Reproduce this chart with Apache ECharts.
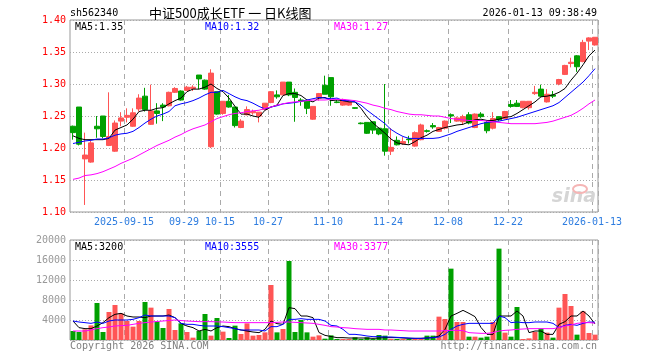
<!DOCTYPE html>
<html><head><meta charset="utf-8">
<script src="https://cdn.jsdelivr.net/npm/echarts@6/dist/echarts.min.js"></script>
<style>html,body{margin:0;padding:0;background:#fff}#c{width:660px;height:360px}</style>
</head><body><div id="c"></div>
<script>
const dates = [
'2025-09-02','2025-09-03','2025-09-04','2025-09-05','2025-09-08','2025-09-09','2025-09-10','2025-09-11','2025-09-12','2025-09-15',
'2025-09-16','2025-09-17','2025-09-18','2025-09-19','2025-09-22','2025-09-23','2025-09-24','2025-09-25','2025-09-26','2025-09-29',
'2025-09-30','2025-10-09','2025-10-10','2025-10-13','2025-10-14','2025-10-15','2025-10-16','2025-10-17','2025-10-20','2025-10-21',
'2025-10-22','2025-10-23','2025-10-24','2025-10-27','2025-10-28','2025-10-29','2025-10-30','2025-10-31','2025-11-03','2025-11-04',
'2025-11-05','2025-11-06','2025-11-07','2025-11-10','2025-11-11','2025-11-12','2025-11-13','2025-11-14','2025-11-17','2025-11-18',
'2025-11-19','2025-11-20','2025-11-21','2025-11-24','2025-11-25','2025-11-26','2025-11-27','2025-11-28','2025-12-01','2025-12-02',
'2025-12-03','2025-12-04','2025-12-05','2025-12-08','2025-12-09','2025-12-10','2025-12-11','2025-12-12','2025-12-15','2025-12-16',
'2025-12-17','2025-12-18','2025-12-19','2025-12-22','2025-12-23','2025-12-24','2025-12-25','2025-12-26','2025-12-29','2025-12-30',
'2025-12-31','2026-01-05','2026-01-06','2026-01-07','2026-01-08','2026-01-09','2026-01-12','2026-01-13'];
const tickDates = ['2025-09-15','2025-09-29','2025-10-15','2025-10-27','2025-11-10','2025-11-24','2025-12-08','2025-12-22','2026-01-13'];
const tickLabels = ['2025-09-15','09-29','10-15','10-27','11-10','11-24','12-08','12-22','2026-01-13'];

const open = [1.234,1.264,1.183,1.178,1.234,1.250,1.204,1.195,1.242,1.248,
1.234,1.261,1.281,1.237,1.258,1.267,1.266,1.287,1.289,1.290,
1.293,1.314,1.306,1.202,1.288,1.254,1.273,1.264,1.232,1.252,
1.255,1.250,1.260,1.271,1.283,1.283,1.303,1.287,1.275,1.273,
1.245,1.278,1.298,1.310,1.272,1.267,1.267,1.263,1.239,1.240,
1.241,1.231,1.230,1.195,1.212,1.207,1.214,1.203,1.213,1.227,
1.235,1.226,1.231,1.252,1.242,1.241,1.252,1.232,1.253,1.240,
1.231,1.249,1.246,1.268,1.270,1.263,1.263,1.285,1.292,1.272,
1.283,1.300,1.315,1.332,1.344,1.335,1.367,1.361];
const close = [1.224,1.206,1.189,1.208,1.230,1.218,1.218,1.239,1.247,1.251,
1.255,1.278,1.260,1.258,1.254,1.264,1.287,1.293,1.275,1.295,
1.295,1.308,1.292,1.317,1.253,1.273,1.264,1.235,1.242,1.260,
1.257,1.256,1.270,1.288,1.280,1.303,1.283,1.279,1.273,1.262,
1.265,1.285,1.284,1.280,1.271,1.275,1.272,1.262,1.238,1.223,
1.228,1.222,1.195,1.201,1.205,1.210,1.213,1.224,1.236,1.226,
1.233,1.232,1.242,1.250,1.247,1.249,1.239,1.253,1.249,1.227,
1.246,1.244,1.257,1.265,1.265,1.273,1.273,1.287,1.281,1.284,
1.281,1.307,1.329,1.334,1.327,1.365,1.372,1.373];
const low = [1.213,1.204,1.111,1.177,1.216,1.215,1.203,1.194,1.234,1.240,
1.233,1.257,1.257,1.236,1.238,1.242,1.265,1.286,1.274,1.289,
1.289,1.292,1.291,1.200,1.252,1.252,1.263,1.232,1.231,1.251,
1.252,1.240,1.259,1.270,1.277,1.283,1.281,1.241,1.266,1.253,
1.244,1.274,1.284,1.266,1.270,1.266,1.266,1.261,1.237,1.222,
1.222,1.220,1.188,1.189,1.204,1.205,1.207,1.202,1.212,1.224,
1.230,1.225,1.229,1.239,1.241,1.236,1.237,1.231,1.247,1.223,
1.229,1.242,1.245,1.263,1.264,1.262,1.260,1.283,1.280,1.271,
1.278,1.298,1.314,1.326,1.319,1.334,1.353,1.360];
const high = [1.235,1.264,1.224,1.211,1.250,1.250,1.287,1.243,1.256,1.262,
1.262,1.284,1.294,1.299,1.270,1.270,1.288,1.295,1.290,1.297,
1.298,1.314,1.307,1.323,1.288,1.273,1.283,1.264,1.245,1.265,
1.260,1.256,1.270,1.289,1.290,1.303,1.303,1.293,1.278,1.275,
1.265,1.286,1.313,1.310,1.275,1.277,1.275,1.263,1.240,1.240,
1.241,1.232,1.300,1.231,1.218,1.217,1.219,1.226,1.238,1.229,
1.239,1.233,1.243,1.254,1.249,1.252,1.256,1.254,1.256,1.242,
1.256,1.250,1.258,1.275,1.275,1.273,1.273,1.297,1.299,1.292,
1.289,1.308,1.330,1.341,1.345,1.369,1.373,1.373];

const ma5 = [1.219,1.215,1.213,1.213,1.213,1.213,1.215,1.228,1.232,1.236,
1.245,1.257,1.259,1.259,1.262,1.263,1.269,1.274,1.278,1.288,
1.292,1.292,1.295,1.300,1.293,1.288,1.278,1.265,1.253,1.253,
1.250,1.248,1.259,1.264,1.267,1.282,1.285,1.285,1.282,1.275,
1.272,1.278,1.279,1.274,1.275,1.274,1.272,1.272,1.262,1.249,
1.239,1.231,1.223,1.214,1.208,1.206,1.205,1.210,1.216,1.220,
1.226,1.229,1.232,1.234,1.236,1.237,1.241,1.244,1.245,1.243,
1.243,1.245,1.248,1.249,1.254,1.260,1.266,1.272,1.280,1.281,
1.283,1.287,1.293,1.306,1.317,1.330,1.344,1.353];
const ma10 = [1.207,1.209,1.211,1.212,1.214,1.214,1.216,1.220,1.222,1.223,
1.226,1.232,1.239,1.245,1.250,1.253,1.257,1.266,1.269,1.271,
1.274,1.278,1.283,1.287,1.287,1.290,1.285,1.280,1.276,1.274,
1.270,1.265,1.261,1.264,1.266,1.269,1.270,1.271,1.273,1.275,
1.277,1.279,1.278,1.277,1.278,1.274,1.274,1.272,1.267,1.259,
1.252,1.245,1.238,1.229,1.223,1.218,1.215,1.215,1.215,1.215,
1.215,1.216,1.219,1.222,1.226,1.229,1.232,1.235,1.238,1.240,
1.241,1.242,1.244,1.246,1.248,1.251,1.254,1.257,1.260,1.263,
1.266,1.271,1.279,1.287,1.295,1.303,1.313,1.324];
const ma30 = [1.151,1.153,1.157,1.158,1.160,1.163,1.167,1.171,1.176,1.180,
1.184,1.189,1.194,1.199,1.204,1.208,1.212,1.217,1.221,1.226,
1.230,1.233,1.236,1.241,1.246,1.249,1.252,1.254,1.255,1.257,
1.258,1.259,1.262,1.264,1.267,1.269,1.271,1.272,1.273,1.274,
1.275,1.275,1.275,1.276,1.276,1.276,1.275,1.274,1.272,1.270,
1.267,1.265,1.262,1.260,1.257,1.255,1.253,1.252,1.252,1.251,
1.250,1.250,1.248,1.246,1.245,1.244,1.243,1.243,1.243,1.242,
1.241,1.240,1.239,1.238,1.238,1.238,1.238,1.238,1.239,1.240,
1.242,1.245,1.248,1.251,1.256,1.262,1.269,1.275];

const volume = [1800,1600,2130,2930,7400,1600,5600,7000,5330,3800,
2670,3800,7600,6470,3670,2400,6200,2000,3330,1600,
470,1800,5200,870,4400,1670,400,2870,1200,3330,
870,1000,1530,11000,1530,2200,15800,1600,4000,1530,
670,930,270,930,200,200,200,530,200,530,
200,1000,870,200,200,200,200,200,200,870,
870,4670,4200,14270,3600,3600,670,670,470,670,
3600,18270,1470,670,6600,200,330,1600,2270,1470,
470,6470,9200,6800,1070,5730,1400,1070];
const volMa5 = [3800,2470,2270,2270,2800,3470,4470,5130,5330,4800,
4600,4600,4470,4800,4800,4800,5000,4470,3330,2800,
2470,1800,2130,1800,2470,2800,2670,2270,2000,1800,
1600,1470,2130,3800,3270,3130,6470,6270,4800,4800,
4470,1500,930,700,470,470,400,400,400,400,
330,400,470,470,470,400,330,330,330,400,
470,800,2130,4800,5330,5930,5330,4670,2500,1130,
1130,4800,4800,4800,5800,4800,1470,1800,1800,1130,
1130,3130,3670,4800,4800,5800,4800,3200];
const volMa10 = [3800,3600,3470,3330,3600,3330,3800,4000,4000,4000,
4130,4470,5000,4800,4800,4800,4800,4470,3330,3130,
3130,2930,2800,2800,2800,2670,2470,2270,2000,2000,
2000,2000,1800,2670,2670,3130,4130,4130,4270,4130,
4130,4130,3800,2930,2800,2130,1130,1130,1000,800,
670,670,600,600,530,470,400,330,330,400,
470,600,1130,2130,2800,3130,3330,3330,3330,3330,
3330,4800,4470,3470,3600,3470,3470,3600,3600,3600,
3330,2470,2930,3130,2930,3330,3600,3555];
const volMa30 = [1800,1800,1800,2000,2270,2470,2600,2800,2870,2930,
3130,3330,3470,3600,3700,3800,3900,4000,3900,3800,
3730,3670,3670,3670,3630,3600,3530,3470,3470,3470,
3470,3470,3470,3470,3530,3600,3600,3530,3470,3400,
3330,3130,2930,2670,2600,2470,2400,2270,2200,2130,
2130,2130,2000,2000,1930,1870,1800,1800,1800,1800,
1800,1800,1870,1930,1930,1870,1470,1400,1330,1330,
1470,1800,1930,2000,2130,2200,2270,2270,2270,2270,
2270,2470,2800,3000,3330,3470,3470,3377];

const maPriceTexts = ['MA5:1.35','MA10:1.32','MA30:1.27'];
const maVolTexts = ['MA5:3200','MA10:3555','MA30:3377'];
const maColors = ['#000000','#0000ff','#ff00ff'];

const UP = '#ff5555', DOWN = '#00a000';
const MONO = "'DejaVu Sans Mono', monospace";
const tickIdx = tickDates.map(d => dates.indexOf(d));

const candleData = dates.map((d, i) => [open[i], close[i], low[i], high[i]]);
const volData = volume.map((v, i) => ({ value: v, itemStyle: { color: close[i] >= open[i] ? UP : DOWN } }));

const chart = echarts.init(document.getElementById('c'), null, { renderer: 'canvas' });

function xAxisCfg(gi, showLabel) {
  return {
    type: 'category', gridIndex: gi, data: dates, boundaryGap: true,
    axisLine: { show: false }, axisTick: { show: false },
    axisLabel: {
      show: showLabel, interval: (i) => tickIdx.includes(i),
      formatter: (v) => tickLabels[tickDates.indexOf(v)],
      color: '#2e7de0', fontFamily: MONO, fontSize: 10, margin: 5, padding: [0, 6, 0, 0]
    },
    splitLine: { show: true, interval: (i) => tickIdx.includes(i),
      lineStyle: { color: '#aaaaaa', type: [5, 4], width: 1 } }
  };
}

const textEls = [];
function txt(x, y, s, color, font, align) {
  textEls.push({ type: 'text', x: x, y: y, silent: true, z: 100,
    style: { text: s, fill: color, font: font, align: align || 'left', verticalAlign: 'middle' } });
}
txt(70, 13, 'sh562340', '#000', '10px ' + MONO);
txt(149, 13, '中证500成长ETF 一 日K线图', '#000', "13px 'Noto Sans CJK SC'");
txt(597, 13, '2026-01-13 09:38:49', '#000', '10px ' + MONO, 'right');
const maX = [75, 205, 334];
maPriceTexts.forEach((t, i) => txt(maX[i], 27, t, maColors[i], '10px ' + MONO));
maVolTexts.forEach((t, i) => txt(maX[i], 247, t, maColors[i], '10px ' + MONO));
txt(70, 346, 'Copyright 2026 SINA.COM', '#808080', '10px ' + MONO);
txt(597, 346, 'http://finance.sina.com.cn', '#808080', '10px ' + MONO, 'right');
textEls.push({ type: 'text', x: 596, y: 197, silent: true, z: 5,
  style: { text: 'sina', fill: '#d5d5d5', font: "italic bold 19px 'DejaVu Sans'", align: 'right', verticalAlign: 'middle' } });
textEls.push({ type: 'ellipse', shape: { cx: 580, cy: 189, rx: 7, ry: 4 }, silent: true, z: 5,
  style: { fill: 'none', stroke: '#f5b5b5', lineWidth: 2 } });

function lineSeries(data, color, xi, yi) {
  return { type: 'line', data: data, xAxisIndex: xi, yAxisIndex: yi, symbol: 'none', silent: true,
    lineStyle: { color: color, width: 1 }, z: 4 };
}

chart.setOption({
  animation: false,
  backgroundColor: '#ffffff',
  grid: [
    { left: 70, top: 20, width: 528, height: 192, show: true, borderColor: '#999999', borderWidth: 1, backgroundColor: 'transparent' },
    { left: 70, top: 240, width: 528, height: 100, show: true, borderColor: '#999999', borderWidth: 1, backgroundColor: 'transparent' }
  ],
  xAxis: [xAxisCfg(0, true), xAxisCfg(1, false)],
  yAxis: [
    { type: 'value', gridIndex: 0, min: 1.10, max: 1.40, interval: 0.05,
      axisLine: { show: false }, axisTick: { show: false },
      axisLabel: { color: '#ff0000', fontFamily: MONO, fontSize: 10, margin: 4, formatter: (v) => v.toFixed(2) },
      splitLine: { show: true, lineStyle: { color: '#aaaaaa', type: [1, 2] } } },
    { type: 'value', gridIndex: 1, min: 0, max: 20000, interval: 4000,
      axisLine: { show: false }, axisTick: { show: false },
      axisLabel: { color: '#999999', fontFamily: MONO, fontSize: 10, margin: 4, formatter: (v) => v === 0 ? '' : String(v) },
      splitLine: { show: true, lineStyle: { color: '#aaaaaa', type: [1, 2] } } }
  ],
  series: [
    { type: 'candlestick', xAxisIndex: 0, yAxisIndex: 0, data: candleData, barWidth: 5, silent: true,
      itemStyle: { color: UP, color0: DOWN, borderColor: UP, borderColor0: DOWN, borderWidth: 1 } },
    lineSeries(ma5, maColors[0], 0, 0),
    lineSeries(ma10, maColors[1], 0, 0),
    lineSeries(ma30, maColors[2], 0, 0),
    { type: 'bar', xAxisIndex: 1, yAxisIndex: 1, data: volData, barWidth: 5, silent: true },
    lineSeries(volMa5, maColors[0], 1, 1),
    lineSeries(volMa10, maColors[1], 1, 1),
    lineSeries(volMa30, maColors[2], 1, 1)
  ],
  graphic: textEls
});
</script>
</body></html>
